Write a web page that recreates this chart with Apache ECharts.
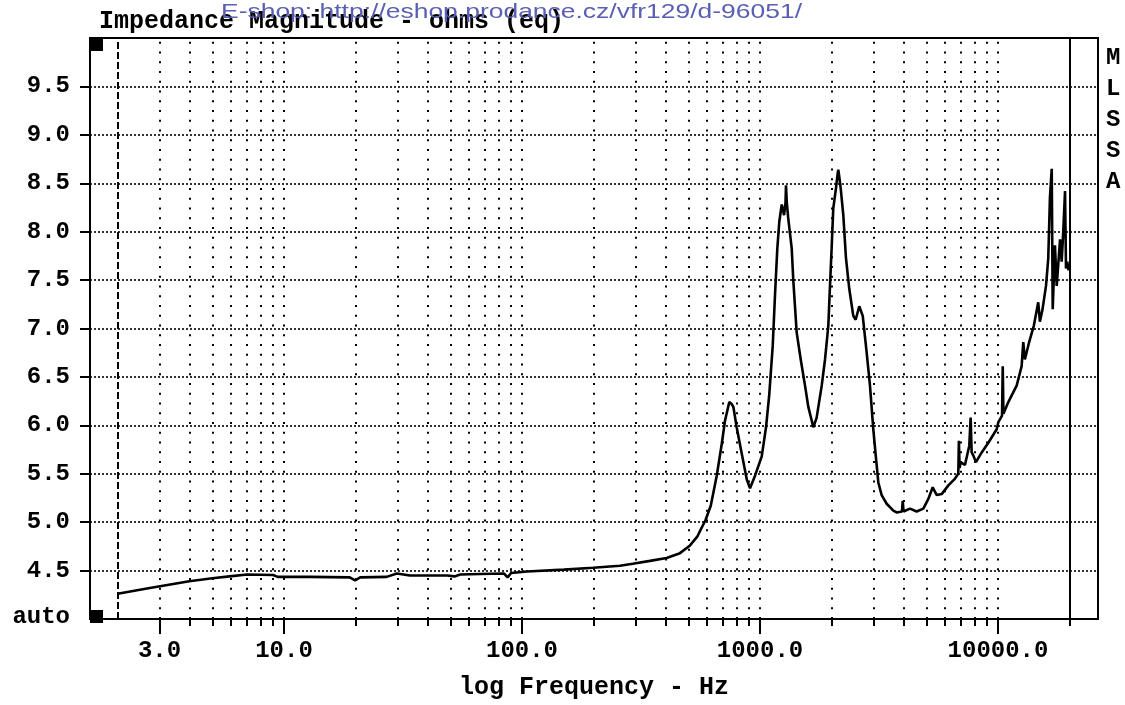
<!DOCTYPE html>
<html>
<head>
<meta charset="utf-8">
<script src="https://cdn.jsdelivr.net/npm/echarts@6/dist/echarts.min.js"></script>
<style>
html,body{margin:0;padding:0;background:#fff;}
#chart{width:1125px;height:705px;}
</style>
</head>
<body>
<div id="chart"></div>
<script>
// ---- data ----
const freqHz = [
  2.0, 2.73, 4.0, 5.0, 5.9, 7.0, 9.0, 9.4, 12.9, 18.9, 19.9, 20.9, 27, 29.8, 33.8, 48.5, 52, 55, 66.6, 84, 87, 90,
  105, 150, 199, 258, 292, 345, 405, 461, 508, 545, 560, 590, 621, 658, 691, 713, 743, 760, 773, 798, 838, 880, 908,
  953, 1017, 1060, 1094, 1131, 1156, 1182, 1205, 1234, 1262, 1280, 1286, 1296, 1314, 1359, 1380, 1426, 1483, 1546,
  1596, 1649, 1675, 1730, 1817, 1876, 1937, 1968, 2000, 2032, 2086, 2120, 2133, 2150, 2183, 2239, 2297, 2372, 2466,
  2523, 2613, 2702, 2807, 2898, 2995, 3072, 3142, 3245, 3406, 3632, 3751, 3950, 3978, 4010, 4268, 4553, 4857, 5097,
  5317, 5530, 5800, 6187, 6600, 6810, 6850, 6900, 6967, 7264, 7575, 7675, 7750, 7873, 8079, 8544, 9107, 9874, 10026,
  10400, 10470, 10540, 11050, 11980, 12570, 12770, 12970, 13520, 14150, 14760, 15000, 15390, 15910, 16260, 16530,
  16820, 16980, 17350, 17650, 18230, 18520, 18800, 19130, 19310, 19550, 19800
];
const impedanceOhm = [
  4.26, 4.32, 4.39, 4.42, 4.44, 4.46, 4.455, 4.435, 4.435, 4.43, 4.40, 4.43, 4.435, 4.47, 4.45, 4.45, 4.44, 4.46, 4.465, 4.47, 4.43, 4.475,
  4.49, 4.51, 4.53, 4.55, 4.57, 4.60, 4.63, 4.68, 4.76, 4.85, 4.91, 5.02, 5.17, 5.48, 5.81, 6.05, 6.24, 6.22, 6.19, 5.98, 5.71, 5.44, 5.35,
  5.48, 5.68, 5.98, 6.32, 6.82, 7.34, 7.82, 8.10, 8.28, 8.17, 8.30, 8.48, 8.30, 8.14, 7.83, 7.50, 6.96, 6.68, 6.41,
  6.19, 6.05, 5.98, 6.08, 6.41, 6.68, 7.03, 7.44, 7.83, 8.24, 8.45, 8.60, 8.64, 8.58, 8.45, 8.17, 7.73, 7.41, 7.13,
  7.09, 7.23, 7.13, 6.75, 6.41, 5.95, 5.66, 5.41, 5.28, 5.19, 5.12, 5.10, 5.11, 5.22, 5.11, 5.14, 5.11, 5.14, 5.24,
  5.36, 5.28, 5.29, 5.38, 5.45, 5.50, 5.84, 5.56, 5.62, 5.59, 5.79, 6.08, 5.72, 5.69, 5.62, 5.72, 5.82, 5.96, 6.03,
  6.10, 6.61, 6.12, 6.24, 6.41, 6.61, 6.86, 6.68, 6.86, 7.03, 7.27, 7.07, 7.20, 7.44, 7.72, 8.35,
  8.65, 7.20, 7.86, 7.44, 7.92, 7.69, 8.00, 8.42, 7.62, 7.69, 7.60
];

// axis ticks / labels
const xLabelValues = [3, 10, 100, 1000, 10000];
const xTickValues = [3, 4, 5, 6, 7, 8, 9, 10, 20, 30, 40, 50, 60, 70, 80, 90, 100, 200, 300, 400, 500, 600, 700, 800, 900,
  1000, 2000, 3000, 4000, 5000, 6000, 7000, 8000, 9000, 10000, 20000];
const xGridValues = [3, 4, 5, 6, 7, 8, 9, 10, 20, 30, 40, 50, 60, 70, 80, 90, 100, 200, 300, 400, 500, 600, 700, 800, 900,
  1000, 2000, 3000, 4000, 5000, 6000, 7000, 8000, 9000, 10000];
const xStartMarker = 2;
const xEndMarker = 20000;
const yTickValues = [4.5, 5.0, 5.5, 6.0, 6.5, 7.0, 7.5, 8.0, 8.5, 9.0, 9.5];
const yMin = 4.0, yMax = 10.0, yStep = 0.5;
const xMin = 1.5305, xMax = 26316;

const titleText = 'Impedance Magnitude - ohms (eq)';
const xAxisTitle = 'log Frequency - Hz';
const sideText = 'M\nL\nS\nS\nA';
const autoText = 'auto';
const watermarkText = 'E-shop: http://eshop.prodance.cz/vfr129/d-96051/';

// ---- chart ----
const MONO = '"Liberation Mono", "DejaVu Sans Mono", monospace';
const labelFont = { fontFamily: MONO, fontWeight: 'bold', fontSize: 24, color: '#000' };

const GRID = { left: 90, top: 38, width: 1008, height: 585 };
const dotPeriod = GRID.height / ((yMax - yMin) / 0.1);

const vLines = xGridValues.map(v => ({
  xAxis: v,
  lineStyle: { color: '#000', width: 2, type: [2, dotPeriod - 2] }
}));
vLines.push({ xAxis: xStartMarker, lineStyle: { color: '#000', width: 2, type: [7, 3] } });
vLines.push({ xAxis: xEndMarker, lineStyle: { color: '#000', width: 2, type: 'solid' } });
const hLines = yTickValues.map(v => ({
  yAxis: v,
  lineStyle: { color: '#000', width: 1.6, type: [2, 2] }
}));

const chart = echarts.init(document.getElementById('chart'), null, { renderer: 'canvas' });
chart.setOption({
  animation: false,
  backgroundColor: '#fff',
  title: [
    { text: titleText, left: 99, top: 9, padding: 0,
      textStyle: { fontFamily: MONO, fontWeight: 'bold', fontSize: 25, color: '#000' } },
    { text: sideText, left: 1106, top: 42, padding: 0,
      textStyle: { fontFamily: MONO, fontWeight: 'bold', fontSize: 24, color: '#000', lineHeight: 31 } }
  ],
  grid: { left: GRID.left, top: GRID.top, width: GRID.width, height: GRID.height,
          show: true, borderColor: '#000', borderWidth: 2, backgroundColor: 'transparent' },
  xAxis: [
    {
      type: 'log', logBase: 10, min: xMin, max: xMax, position: 'bottom',
      name: xAxisTitle, nameLocation: 'middle', nameGap: 56,
      nameTextStyle: { fontFamily: MONO, fontWeight: 'bold', fontSize: 25, color: '#000' },
      axisLine: { show: true, onZero: false, lineStyle: { color: '#000', width: 2 } },
      axisTick: { show: true, customValues: xTickValues, length: 7, lineStyle: { color: '#000', width: 2 } },
      axisLabel: Object.assign({ show: true, customValues: xLabelValues, margin: 20,
        formatter: v => Number(v).toFixed(1) }, labelFont),
      splitLine: { show: false }, minorTick: { show: false }, minorSplitLine: { show: false }
    },
    {
      type: 'log', logBase: 10, min: xMin, max: xMax, position: 'bottom',
      axisLine: { show: false },
      axisTick: { show: true, customValues: xLabelValues, length: 15, lineStyle: { color: '#000', width: 2 } },
      axisLabel: { show: false },
      splitLine: { show: false }
    }
  ],
  yAxis: {
    type: 'value', min: yMin, max: yMax, interval: yStep, position: 'left',
    axisLine: { show: true, onZero: false, lineStyle: { color: '#000', width: 2 } },
    axisTick: { show: true, customValues: yTickValues, length: 10, lineStyle: { color: '#000', width: 2 } },
    axisLabel: Object.assign({ customValues: yTickValues, margin: 20, formatter: v => Number(v).toFixed(1) }, labelFont),
    splitLine: { show: false }
  },
  graphic: [
    { type: 'rect', shape: { x: 90, y: 38, width: 13, height: 13 }, style: { fill: '#000' } },
    { type: 'rect', shape: { x: 90, y: 610, width: 13, height: 13 }, style: { fill: '#000' } },
    { type: 'text', x: 70, y: 617, style: { text: autoText, fontFamily: MONO, fontWeight: 'bold', fontSize: 24,
      fill: '#000', align: 'right', verticalAlign: 'middle' } },
    { type: 'text', x: 221, y: 2, scaleX: 1.26, z: 100,
      style: { text: watermarkText, fontFamily: '"Liberation Sans", Arial, sans-serif', fontSize: 21,
        fill: '#5a5fb4', align: 'left', verticalAlign: 'top' } }
  ],
  series: [{
    type: 'line',
    xAxisIndex: 0, yAxisIndex: 0,
    data: freqHz.map((f, i) => [f, impedanceOhm[i]]),
    symbol: 'none', showSymbol: false,
    lineStyle: { color: '#000', width: 2.6 },
    z: 5,
    markLine: {
      silent: true, symbol: ['none', 'none'], label: { show: false }, animation: false,
      emphasis: { disabled: true },
      data: vLines.concat(hLines)
    }
  }]
});
</script>
</body>
</html>
